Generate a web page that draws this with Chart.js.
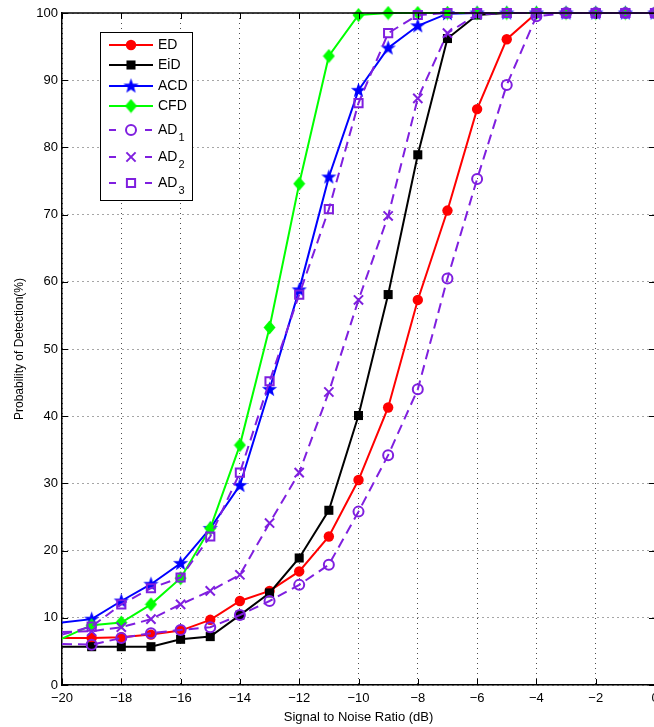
<!DOCTYPE html>
<html>
<head>
<meta charset="utf-8">
<script src="https://cdn.jsdelivr.net/npm/chart.js@4.4.1/dist/chart.umd.min.js"></script>
<style>
  html, body { margin: 0; padding: 0; background: #fff; overflow: hidden; }
  #wrap { width: 670px; height: 727px; }
</style>
</head>
<body>
<div id="wrap"><canvas id="pd" width="670" height="727"></canvas></div>
<script>
// SNR values (dB)
const snr = [-20, -19, -18, -17, -16, -15, -14, -13, -12, -11, -10, -9, -8, -7, -6, -5, -4, -3, -2, -1, 0];

// Probability of detection (%) per detector
const ed  = [7.0, 7.0, 7.1, 7.5, 8.1, 9.7, 12.5, 14.0, 16.9, 22.1, 30.5, 41.3, 57.3, 70.6, 85.7, 96.1, 100, 100, 100, 100, 100];
const eid = [5.7, 5.7, 5.7, 5.7, 6.8, 7.2, 10.4, 13.7, 18.9, 26.0, 40.1, 58.1, 78.9, 96.2, 99.7, 100, 100, 100, 100, 100, 100];
const acd = [9.3, 9.8, 12.5, 15.0, 18.1, 23.3, 29.7, 44.0, 58.8, 75.6, 88.5, 94.8, 98.1, 99.9, 100, 100, 100, 100, 100, 100, 100];
const cfd = [6.9, 8.9, 9.3, 12.0, 15.9, 23.3, 35.7, 53.2, 74.6, 93.6, 99.7, 100, 100, 100, 100, 100, 100, 100, 100, 100, 100];
const ad1 = [6.1, 6.0, 7.0, 7.7, 8.2, 8.6, 10.4, 12.5, 14.9, 17.9, 25.8, 34.2, 44.0, 60.5, 75.3, 89.3, 99.5, 100, 100, 100, 100];
const ad2 = [7.9, 8.0, 8.6, 9.8, 12.0, 14.0, 16.4, 24.1, 31.6, 43.6, 57.3, 69.8, 87.3, 97.0, 99.8, 100, 100, 100, 100, 100, 100];
const ad3 = [7.5, 8.7, 12.0, 14.4, 16.0, 22.1, 31.6, 45.2, 58.1, 70.8, 86.6, 97.0, 99.7, 100, 100, 100, 100, 100, 100, 100, 100];

const names = ['ED', 'EiD', 'ACD', 'CFD', 'AD1', 'AD2', 'AD3'];

const PURPLE = 'rgb(127,31,223)';
const FONT = '"Liberation Sans", Arial, Helvetica, sans-serif';

// custom marker images (MATLAB pentagram / diamond)
function starImg(color) {
    const c = document.createElement('canvas');
    c.width = 17; c.height = 17;
    const g = c.getContext('2d');
    const R = 8, r = 3.3, cx = 8.5, cy = 8.8;
    g.beginPath();
    for (let i = 0; i < 10; i++) {
        const a = -Math.PI / 2 + i * Math.PI / 5;
        const rad = i % 2 ? r : R;
        g.lineTo(cx + rad * Math.cos(a), cy + rad * Math.sin(a));
    }
    g.closePath();
    g.fillStyle = color;
    g.fill();
    return c;
}
function diamondImg(color) {
    const c = document.createElement('canvas');
    c.width = 13; c.height = 15;
    const g = c.getContext('2d');
    g.beginPath();
    g.moveTo(6.5, 0.5); g.lineTo(12.5, 7.5); g.lineTo(6.5, 14.5); g.lineTo(0.5, 7.5);
    g.closePath();
    g.fillStyle = color;
    g.fill();
    return c;
}

const noFirst = r => ctx => ctx.dataIndex === 0 ? 0 : r;

function series(label, data, color, style, radius, filled, dashed, order) {
    return {
        label, data: data.map((y, i) => ({ x: snr[i], y })),
        borderColor: color,
        backgroundColor: filled ? color : 'rgba(0,0,0,0)',
        pointBackgroundColor: filled ? color : 'rgba(0,0,0,0)',
        pointBorderColor: color,
        pointBorderWidth: filled ? 0 : 2,
        pointStyle: style,
        pointRadius: noFirst(radius),
        pointHoverRadius: noFirst(radius),
        borderWidth: 2,
        borderDash: dashed ? [10, 6] : [],
        tension: 0,
        clip: false,
        order
    };
}

const datasets = [
    series(names[0], ed, '#ff0000', 'circle', 5.2, true, false, 7),
    series(names[1], eid, '#000000', 'rect', 6.4, true, false, 6),
    series(names[2], acd, '#0000ff', starImg('#0000ff'), 8, true, false, 5),
    series(names[3], cfd, '#00ff00', diamondImg('#00ff00'), 7, true, false, 4),
    series(names[4], ad1, PURPLE, 'circle', 5, false, true, 3),
    series(names[5], ad2, PURPLE, 'crossRot', 6.5, false, true, 2),
    series(names[6], ad3, PURPLE, 'rect', 5.8, false, true, 1)
];

// inner tick marks + top/right frame, MATLAB style
const frame = {
    id: 'frame',
    afterDatasetsDraw(chart) {
        const { ctx, chartArea: a, scales: { x, y } } = chart;
        ctx.save();
        ctx.strokeStyle = '#000';
        ctx.lineWidth = 1;
        ctx.beginPath();
        x.ticks.forEach(t => {
            const px = Math.round(x.getPixelForValue(t.value)) + 0.5;
            ctx.moveTo(px, a.bottom); ctx.lineTo(px, a.bottom - 6);
            ctx.moveTo(px, a.top); ctx.lineTo(px, a.top + 6);
        });
        y.ticks.forEach(t => {
            const py = Math.round(y.getPixelForValue(t.value)) + 0.5;
            ctx.moveTo(a.left, py); ctx.lineTo(a.left + 6, py);
            ctx.moveTo(a.right, py); ctx.lineTo(a.right - 6, py);
        });
        ctx.stroke();
        ctx.lineWidth = 1.5;
        ctx.beginPath();
        ctx.moveTo(a.left, a.top); ctx.lineTo(a.right, a.top); ctx.lineTo(a.right, a.bottom);
        ctx.stroke();
        ctx.restore();
    }
};

// legend box inside the plot, with subscripts
const legendBox = {
    id: 'legendBox',
    afterDraw(chart) {
        const ctx = chart.ctx;
        const bx = 100, by = 32, bw = 92, bh = 168;
        const rowY = [45, 65, 86, 106, 130, 157, 183];
        ctx.save();
        ctx.fillStyle = '#fff';
        ctx.fillRect(bx, by, bw, bh);
        ctx.strokeStyle = '#000';
        ctx.lineWidth = 1;
        ctx.strokeRect(bx + 0.5, by + 0.5, bw, bh);
        chart.data.datasets.forEach((ds, i) => {
            const yy = rowY[i];
            ctx.strokeStyle = ds.borderColor;
            ctx.lineWidth = ds.borderWidth;
            ctx.setLineDash([]);
            ctx.beginPath();
            if (ds.borderDash.length) {
                ctx.moveTo(109, yy); ctx.lineTo(116, yy);
                ctx.moveTo(145, yy); ctx.lineTo(152, yy);
            } else {
                ctx.moveTo(109, yy); ctx.lineTo(153, yy);
            }
            ctx.stroke();
            ctx.fillStyle = ds.pointBackgroundColor;
            ctx.strokeStyle = ds.pointBorderColor;
            ctx.lineWidth = ds.pointBorderWidth;
            const r = ds.pointRadius({ dataIndex: 1 });
            Chart.helpers.drawPoint(ctx, { pointStyle: ds.pointStyle, radius: r, rotation: 0, borderWidth: ds.pointBorderWidth }, 131, yy);
            const m = ds.label.match(/^(\D+)(\d)$/);
            ctx.fillStyle = '#000';
            ctx.textBaseline = 'middle';
            ctx.font = '14px ' + FONT;
            const base = m ? m[1] : ds.label;
            ctx.fillText(base, 158, yy);
            if (m) {
                const w = ctx.measureText(base).width;
                ctx.font = '11px ' + FONT;
                ctx.fillText(m[2], 158 + w + 1, yy + 8);
            }
        });
        ctx.restore();
    }
};

const minus = v => String(v).replace('-', '\u2212');

new Chart(document.getElementById('pd'), {
    type: 'line',
    data: { datasets },
    options: {
        responsive: false,
        animation: false,
        layout: { padding: { top: 13, right: 15, left: 0, bottom: 0 } },
        plugins: { legend: { display: false }, tooltip: { enabled: false } },
        scales: {
            x: {
                type: 'linear', min: -20, max: 0,
                afterFit: s => { s.height = 42; },
                ticks: { stepSize: 2, padding: 6, color: '#000', font: { family: FONT, size: 13 }, callback: minus, maxRotation: 0 },
                grid: { drawTicks: false, color: 'rgba(0,0,0,0.7)', lineWidth: 1 },
                border: { display: true, color: '#000', width: 1.5, dash: [1, 4] },
                title: { display: true, text: 'Signal to Noise Ratio (dB)', color: '#000', font: { family: FONT, size: 13 }, padding: { top: 0, bottom: 2 } }
            },
            y: {
                min: 0, max: 100,
                afterFit: s => { s.width = 62; },
                ticks: { stepSize: 10, padding: 4, color: '#000', font: { family: FONT, size: 13 } },
                grid: { drawTicks: false, color: 'rgba(0,0,0,0.7)', lineWidth: 1 },
                border: { display: true, color: '#000', width: 1.5, dash: [1, 4] },
                title: { display: true, text: 'Probability of Detection(%)', color: '#000', font: { family: FONT, size: 12 }, padding: { top: 12, bottom: 0 } }
            }
        }
    },
    plugins: [frame, legendBox]
});
</script>
</body>
</html>
